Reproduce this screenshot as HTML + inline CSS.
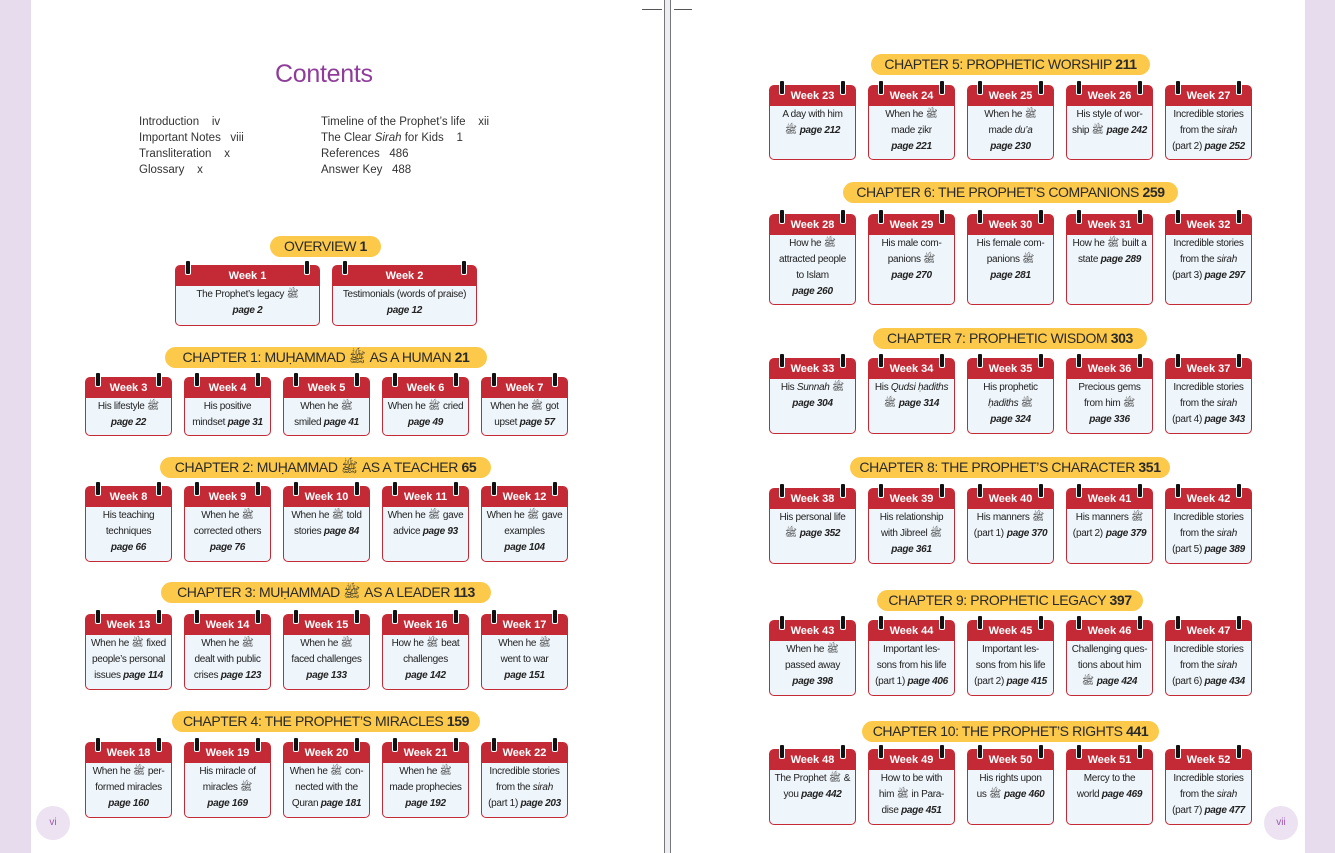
<!DOCTYPE html>
<html><head><meta charset="utf-8"><style>
*{margin:0;padding:0;box-sizing:border-box}
body{width:1335px;height:853px;position:relative;background:#fff;font-family:"Liberation Sans","DejaVu Sans",sans-serif;overflow:hidden;color:#222}
.lav{position:absolute;top:0;height:853px;background:#e6dced}
.gut{position:absolute;top:0;height:853px;left:664px;width:7px;background:#eceef4;border-left:1px solid #777;border-right:1px solid #777}
.pill{position:absolute;height:21px;background:#fcc94a;border-radius:11px;text-align:center;font-size:14px;letter-spacing:-0.4px;line-height:21px;color:#2a2a2a;white-space:nowrap}
.pill b{font-weight:bold}
.c{position:absolute;width:87px;border:1.5px solid #c42a36;border-radius:5px;background:#eef5fb;text-align:center}
.c::before,.c::after{content:"";position:absolute;top:-6px;width:4px;height:13px;background:#111;border-radius:2px;border:1px solid #fff}
.c::before{left:9px}.c::after{right:9px}
.h{background:#c42a36;color:#fff;font-weight:bold;font-size:11px;height:20px;line-height:21px;border-radius:3px 3px 0 0}
.b{font-size:10px;line-height:16px;padding-top:1px;white-space:nowrap;letter-spacing:-0.3px}
.b b{font-style:italic}
.pn{position:absolute;width:34px;height:34px;border-radius:50%;background:#ece2f1;color:#9b59b0;font-size:10px;text-align:center;line-height:34px}
.toc{position:absolute;font-size:11.5px;line-height:16px;color:#333}
</style></head><body>
<div class="lav" style="left:0;width:31px"></div>
<div class="lav" style="left:1305px;width:30px"></div>
<div class="gut"></div>
<div style="position:absolute;left:642px;top:9px;width:20px;border-top:1px solid #555"></div>
<div style="position:absolute;left:674px;top:9px;width:18px;border-top:1px solid #555"></div>

<div style="position:absolute;left:275px;top:60px;font-size:25px;color:#8e3d99;letter-spacing:-0.3px">Contents</div>
<div class="toc" style="left:139px;top:114px">Introduction &nbsp;&nbsp; iv<br>Important Notes &nbsp;&nbsp;viii<br>Transliteration &nbsp;&nbsp; x<br>Glossary &nbsp;&nbsp; x</div>
<div class="toc" style="left:321px;top:114px">Timeline of the Prophet’s life &nbsp;&nbsp; xii<br>The Clear <i>Sirah</i> for Kids &nbsp;&nbsp; 1<br>References &nbsp;&nbsp;486<br>Answer Key &nbsp;&nbsp;488</div>

<div class="pill" style="left:270px;top:236px;width:111px">OVERVIEW <b>1</b></div>
<div class="c" style="left:175px;top:265px;width:145px;height:61px"><div class="h">Week 1</div><div class="b">The Prophet’s legacy ﷺ<br><b>page 2</b></div></div>
<div class="c" style="left:332px;top:265px;width:145px;height:61px"><div class="h">Week 2</div><div class="b">Testimonials (words of praise)<br><b>page 12</b></div></div>

<div class="pill" style="left:165px;top:347px;width:322px">CHAPTER 1: MUḤAMMAD ﷺ AS A HUMAN <b>21</b></div>
<div class="c" style="left:85px;top:377px;height:59px"><div class="h">Week 3</div><div class="b">His lifestyle ﷺ<br><b>page 22</b></div></div>
<div class="c" style="left:184px;top:377px;height:59px"><div class="h">Week 4</div><div class="b">His positive<br>mindset <b>page 31</b></div></div>
<div class="c" style="left:283px;top:377px;height:59px"><div class="h">Week 5</div><div class="b">When he ﷺ<br>smiled <b>page 41</b></div></div>
<div class="c" style="left:382px;top:377px;height:59px"><div class="h">Week 6</div><div class="b">When he ﷺ cried<br><b>page 49</b></div></div>
<div class="c" style="left:481px;top:377px;height:59px"><div class="h">Week 7</div><div class="b">When he ﷺ got<br>upset <b>page 57</b></div></div>

<div class="pill" style="left:160px;top:457px;width:331px">CHAPTER 2: MUḤAMMAD ﷺ AS A TEACHER <b>65</b></div>
<div class="c" style="left:85px;top:486px;height:76px"><div class="h">Week 8</div><div class="b">His teaching<br>techniques<br><b>page 66</b></div></div>
<div class="c" style="left:184px;top:486px;height:76px"><div class="h">Week 9</div><div class="b">When he ﷺ<br>corrected others<br><b>page 76</b></div></div>
<div class="c" style="left:283px;top:486px;height:76px"><div class="h">Week 10</div><div class="b">When he ﷺ told<br>stories <b>page 84</b></div></div>
<div class="c" style="left:382px;top:486px;height:76px"><div class="h">Week 11</div><div class="b">When he ﷺ gave<br>advice <b>page 93</b></div></div>
<div class="c" style="left:481px;top:486px;height:76px"><div class="h">Week 12</div><div class="b">When he ﷺ gave<br>examples<br><b>page 104</b></div></div>

<div class="pill" style="left:161px;top:582px;width:330px">CHAPTER 3: MUḤAMMAD ﷺ AS A LEADER <b>113</b></div>
<div class="c" style="left:85px;top:614px;height:76px"><div class="h">Week 13</div><div class="b">When he ﷺ fixed<br>people’s personal<br>issues <b>page 114</b></div></div>
<div class="c" style="left:184px;top:614px;height:76px"><div class="h">Week 14</div><div class="b">When he ﷺ<br>dealt with public<br>crises <b>page 123</b></div></div>
<div class="c" style="left:283px;top:614px;height:76px"><div class="h">Week 15</div><div class="b">When he ﷺ<br>faced challenges<br><b>page 133</b></div></div>
<div class="c" style="left:382px;top:614px;height:76px"><div class="h">Week 16</div><div class="b">How he ﷺ beat<br>challenges<br><b>page 142</b></div></div>
<div class="c" style="left:481px;top:614px;height:76px"><div class="h">Week 17</div><div class="b">When he ﷺ<br>went to war<br><b>page 151</b></div></div>

<div class="pill" style="left:172px;top:711px;width:308px">CHAPTER 4: THE PROPHET’S MIRACLES <b>159</b></div>
<div class="c" style="left:85px;top:742px;height:76px"><div class="h">Week 18</div><div class="b">When he ﷺ per-<br>formed miracles<br><b>page 160</b></div></div>
<div class="c" style="left:184px;top:742px;height:76px"><div class="h">Week 19</div><div class="b">His miracle of<br>miracles ﷺ<br><b>page 169</b></div></div>
<div class="c" style="left:283px;top:742px;height:76px"><div class="h">Week 20</div><div class="b">When he ﷺ con-<br>nected with the<br>Quran <b>page 181</b></div></div>
<div class="c" style="left:382px;top:742px;height:76px"><div class="h">Week 21</div><div class="b">When he ﷺ<br>made prophecies<br><b>page 192</b></div></div>
<div class="c" style="left:481px;top:742px;height:76px"><div class="h">Week 22</div><div class="b">Incredible stories<br>from the <i>sirah</i><br>(part 1) <b>page 203</b></div></div>
<div class="pn" style="left:36px;top:806px">vi</div>

<div class="pill" style="left:871px;top:54px;width:279px">CHAPTER 5: PROPHETIC WORSHIP <b>211</b></div>
<div class="c" style="left:769px;top:85px;height:75px"><div class="h">Week 23</div><div class="b">A day with him<br>ﷺ <b>page 212</b></div></div>
<div class="c" style="left:868px;top:85px;height:75px"><div class="h">Week 24</div><div class="b">When he ﷺ<br>made ẓikr<br><b>page 221</b></div></div>
<div class="c" style="left:967px;top:85px;height:75px"><div class="h">Week 25</div><div class="b">When he ﷺ<br>made <i>du’a</i><br><b>page 230</b></div></div>
<div class="c" style="left:1066px;top:85px;height:75px"><div class="h">Week 26</div><div class="b">His style of wor-<br>ship ﷺ <b>page 242</b></div></div>
<div class="c" style="left:1165px;top:85px;height:75px"><div class="h">Week 27</div><div class="b">Incredible stories<br>from the <i>sirah</i><br>(part 2) <b>page 252</b></div></div>

<div class="pill" style="left:843px;top:182px;width:335px">CHAPTER 6: THE PROPHET’S COMPANIONS <b>259</b></div>
<div class="c" style="left:769px;top:214px;height:91px"><div class="h">Week 28</div><div class="b">How he ﷺ<br>attracted people<br>to Islam<br><b>page 260</b></div></div>
<div class="c" style="left:868px;top:214px;height:91px"><div class="h">Week 29</div><div class="b">His male com-<br>panions ﷺ<br><b>page 270</b></div></div>
<div class="c" style="left:967px;top:214px;height:91px"><div class="h">Week 30</div><div class="b">His female com-<br>panions ﷺ<br><b>page 281</b></div></div>
<div class="c" style="left:1066px;top:214px;height:91px"><div class="h">Week 31</div><div class="b">How he ﷺ built a<br>state <b>page 289</b></div></div>
<div class="c" style="left:1165px;top:214px;height:91px"><div class="h">Week 32</div><div class="b">Incredible stories<br>from the <i>sirah</i><br>(part 3) <b>page 297</b></div></div>

<div class="pill" style="left:873px;top:328px;width:274px">CHAPTER 7: PROPHETIC WISDOM <b>303</b></div>
<div class="c" style="left:769px;top:358px;height:76px"><div class="h">Week 33</div><div class="b">His <i>Sunnah</i> ﷺ<br><b>page 304</b></div></div>
<div class="c" style="left:868px;top:358px;height:76px"><div class="h">Week 34</div><div class="b">His <i>Qudsi ḥadiths</i><br>ﷺ <b>page 314</b></div></div>
<div class="c" style="left:967px;top:358px;height:76px"><div class="h">Week 35</div><div class="b">His prophetic<br><i>ḥadiths</i> ﷺ<br><b>page 324</b></div></div>
<div class="c" style="left:1066px;top:358px;height:76px"><div class="h">Week 36</div><div class="b">Precious gems<br>from him ﷺ<br><b>page 336</b></div></div>
<div class="c" style="left:1165px;top:358px;height:76px"><div class="h">Week 37</div><div class="b">Incredible stories<br>from the <i>sirah</i><br>(part 4) <b>page 343</b></div></div>

<div class="pill" style="left:850px;top:457px;width:320px">CHAPTER 8: THE PROPHET’S CHARACTER <b>351</b></div>
<div class="c" style="left:769px;top:488px;height:76px"><div class="h">Week 38</div><div class="b">His personal life<br>ﷺ <b>page 352</b></div></div>
<div class="c" style="left:868px;top:488px;height:76px"><div class="h">Week 39</div><div class="b">His relationship<br>with Jibreel ﷺ<br><b>page 361</b></div></div>
<div class="c" style="left:967px;top:488px;height:76px"><div class="h">Week 40</div><div class="b">His manners ﷺ<br>(part 1) <b>page 370</b></div></div>
<div class="c" style="left:1066px;top:488px;height:76px"><div class="h">Week 41</div><div class="b">His manners ﷺ<br>(part 2) <b>page 379</b></div></div>
<div class="c" style="left:1165px;top:488px;height:76px"><div class="h">Week 42</div><div class="b">Incredible stories<br>from the <i>sirah</i><br>(part 5) <b>page 389</b></div></div>

<div class="pill" style="left:877px;top:590px;width:266px">CHAPTER 9: PROPHETIC LEGACY <b>397</b></div>
<div class="c" style="left:769px;top:620px;height:76px"><div class="h">Week 43</div><div class="b">When he ﷺ<br>passed away<br><b>page 398</b></div></div>
<div class="c" style="left:868px;top:620px;height:76px"><div class="h">Week 44</div><div class="b">Important les-<br>sons from his life<br>(part 1) <b>page 406</b></div></div>
<div class="c" style="left:967px;top:620px;height:76px"><div class="h">Week 45</div><div class="b">Important les-<br>sons from his life<br>(part 2) <b>page 415</b></div></div>
<div class="c" style="left:1066px;top:620px;height:76px"><div class="h">Week 46</div><div class="b">Challenging ques-<br>tions about him<br>ﷺ <b>page 424</b></div></div>
<div class="c" style="left:1165px;top:620px;height:76px"><div class="h">Week 47</div><div class="b">Incredible stories<br>from the <i>sirah</i><br>(part 6) <b>page 434</b></div></div>

<div class="pill" style="left:862px;top:721px;width:297px">CHAPTER 10: THE PROPHET’S RIGHTS <b>441</b></div>
<div class="c" style="left:769px;top:749px;height:76px"><div class="h">Week 48</div><div class="b">The Prophet ﷺ &amp;<br>you <b>page 442</b></div></div>
<div class="c" style="left:868px;top:749px;height:76px"><div class="h">Week 49</div><div class="b">How to be with<br>him ﷺ in Para-<br>dise <b>page 451</b></div></div>
<div class="c" style="left:967px;top:749px;height:76px"><div class="h">Week 50</div><div class="b">His rights upon<br>us ﷺ <b>page 460</b></div></div>
<div class="c" style="left:1066px;top:749px;height:76px"><div class="h">Week 51</div><div class="b">Mercy to the<br>world <b>page 469</b></div></div>
<div class="c" style="left:1165px;top:749px;height:76px"><div class="h">Week 52</div><div class="b">Incredible stories<br>from the <i>sirah</i><br>(part 7) <b>page 477</b></div></div>
<div class="pn" style="left:1264px;top:806px">vii</div>
</body></html>
